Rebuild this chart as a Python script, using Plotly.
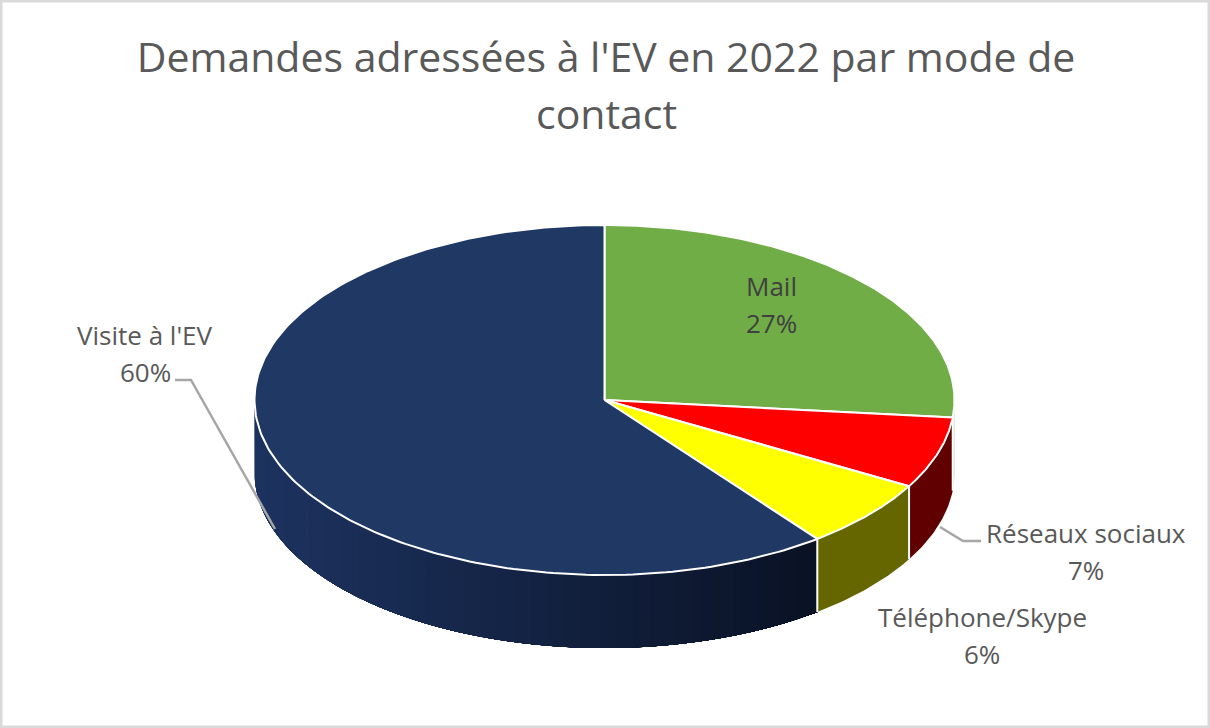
import numpy as np
import plotly.graph_objects as go

# ---- data ----
categories = ["Mail", "Réseaux sociaux", "Téléphone/Skype", "Visite à l'EV"]
values = [26.6, 6.6, 6.4, 60.4]
top_colors = ["#70AD47", "#FF0000", "#FFFF00", "#1F3864"]
side_colors = ["#C9D2C2", "#600000", "#666600", None]
title_lines = ["Demandes adressées à l'EV en 2022 par mode de", "contact"]

# ---- layout constants ----
W, H = 1210, 728
CX, CY, RX, RY, DEPTH = 604.5, 400.0, 350.0, 175.0, 73.0
FONT = "Open Sans"
TEXT = "#595959"
LEADER = "#A6A6A6"
label_pos = {
    "Mail": ((771, 286), (771, 323)),
    "Réseaux sociaux": ((1086, 533), (1086, 570)),
    "Téléphone/Skype": ((982, 617), (982, 654)),
    "Visite à l'EV": ((145, 335), (145, 372)),
}
leaders = [([175, 191, 275], [380, 380, 529]), ([940, 963, 981], [527, 541, 541])]
NAVY_LEFT = np.array([0x1D, 0x33, 0x60])
NAVY_RIGHT = np.array([0x0A, 0x12, 0x24])


def ell(t, dy=0.0):
    return CX + RX * np.sin(t), CY - RY * np.cos(t) + dy


fractions = np.array(values) / sum(values)
edges = np.concatenate([[0], np.cumsum(fractions)]) * 2 * np.pi

fig = go.Figure()


def poly(x, y, fill, line=None, width=0):
    fig.add_trace(go.Scatter(
        x=list(x) + [x[0]], y=list(y) + [y[0]], mode="lines", fill="toself",
        fillcolor=fill, hoverinfo="skip", showlegend=False,
        line=dict(color=line if line else fill, width=width),
    ))


# sides of the disc (only the front half, pi/2 .. 3pi/2, can be seen)
for i, cat in enumerate(categories):
    a, b = max(edges[i], np.pi / 2), min(edges[i + 1], 1.5 * np.pi)
    if a >= b:
        continue
    if side_colors[i]:
        t = np.linspace(a, b, 40)
        xt, yt = ell(t)
        xb, yb = ell(t[::-1], DEPTH)
        poly(np.r_[xt, xb], np.r_[yt, yb], side_colors[i])
    else:
        # horizontal shading of the long side: painted left to right, each
        # layer reaching to the right end, so that no seam shows
        xa, xz = ell(b)[0], ell(a)[0]
        for c in np.linspace(b, a, 90, endpoint=False):
            t = np.linspace(a, c, 60)
            xt, yt = ell(t)
            xb, yb = ell(t[::-1], DEPTH)
            mix = (ell(c)[0] - xa) / (xz - xa)
            rgb = NAVY_LEFT + (NAVY_RIGHT - NAVY_LEFT) * mix
            poly(np.r_[xt, xb], np.r_[yt, yb], "rgb(%d,%d,%d)" % tuple(rgb))

# white separators on the side
for e in edges[1:-1]:
    if np.pi / 2 < e < 1.5 * np.pi:
        x0, y0 = ell(e)
        fig.add_trace(go.Scatter(x=[x0, x0], y=[y0, y0 + DEPTH], mode="lines",
                                 line=dict(color="white", width=2),
                                 hoverinfo="skip", showlegend=False))

# leader lines
for lx, ly in leaders:
    fig.add_trace(go.Scatter(x=lx, y=ly, mode="lines", hoverinfo="skip", showlegend=False,
                             line=dict(color=LEADER, width=2.5)))

# top faces
for i, cat in enumerate(categories):
    t = np.linspace(edges[i], edges[i + 1], 200)
    xt, yt = ell(t)
    poly(np.r_[CX, xt], np.r_[CY, yt], top_colors[i], "white", 2)

annotations = [dict(x=606 / W, y=1 - 113 / H, xref="paper", yref="paper", text=title_lines[1],
                    xanchor="center", yanchor="middle", showarrow=False,
                    font=dict(family=FONT, size=41, color=TEXT))]
for cat, v in zip(categories, values):
    (x1, y1), (x2, y2) = label_pos[cat]
    color = "#404040" if cat == "Mail" else TEXT
    annotations.append(dict(x=x1, y=y1, text=cat, showarrow=False, xanchor="center", yanchor="middle",
                            font=dict(family=FONT, size=26, color=color)))
    annotations.append(dict(x=x2, y=y2, text=f"{round(v)}%", showarrow=False, xanchor="center", yanchor="middle",
                            font=dict(family=FONT, size=26, color=color)))

fig.update_layout(
    width=W, height=H, margin=dict(l=0, r=0, t=0, b=0),
    paper_bgcolor="white", plot_bgcolor="white", showlegend=False,
    title=dict(text=title_lines[0], x=606 / W, xanchor="center", y=1 - 58 / H, yanchor="middle",
               font=dict(family=FONT, size=41, color=TEXT)),
    xaxis=dict(range=[0, W], visible=False, fixedrange=True),
    yaxis=dict(range=[H, 0], visible=False, fixedrange=True),
    annotations=annotations,
    shapes=[dict(type="rect", xref="paper", yref="paper", x0=0, y0=0, x1=1, y1=1, layer="below",
                 line=dict(color="#D9D9D9", width=5), fillcolor="white")],
)
fig.write_html("out.html", config={"displayModeBar": False},
               post_script="document.body.style.margin='0';document.documentElement.style.overflow='hidden';")
